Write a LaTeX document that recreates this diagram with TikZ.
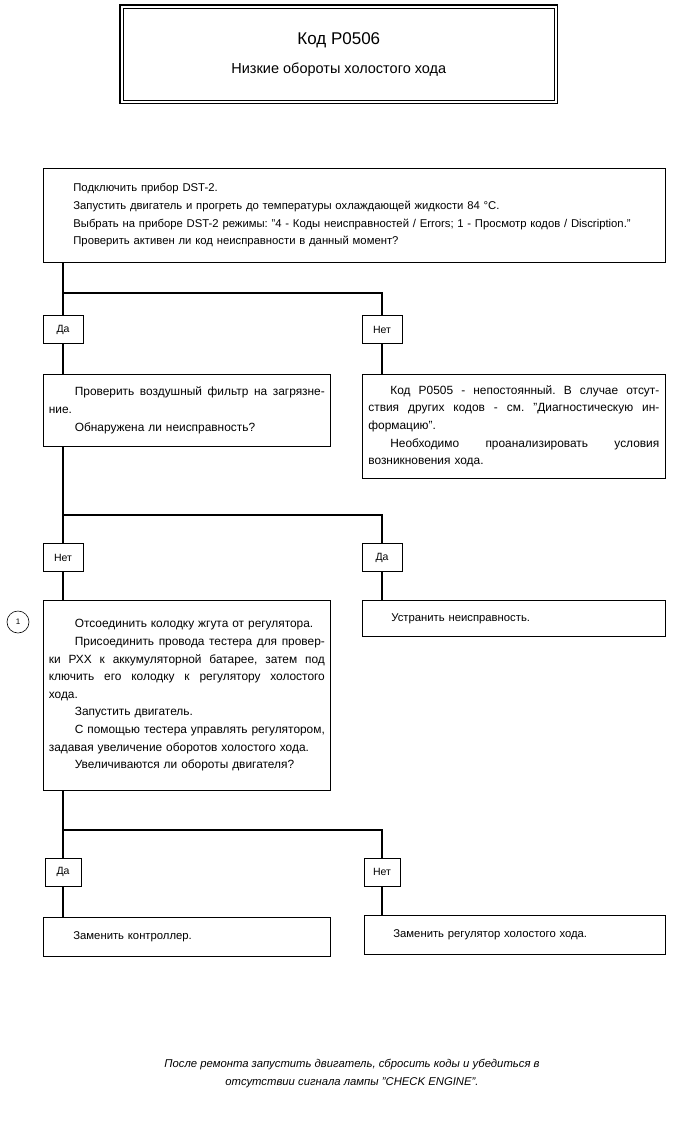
\documentclass[tikz,border=0pt]{standalone}
\usepackage{fontspec}
\setmainfont{Liberation Sans}
\frenchspacing
\newcommand{\jl}[2]{\leavevmode\hbox to #1{\spaceskip=0pt\xspaceskip=0pt\relax #2}}
\newcommand{\ind}{\hspace*{26pt}}
\newcommand{\indr}{\hspace*{22pt}}
\begin{document}
\begin{tikzpicture}[x=1pt,y=-1pt,
  box/.style={draw, line width=0.7pt, anchor=north west, inner sep=0pt, align=left, font=\fontsize{11.3}{17.6}\selectfont},
  bigtext/.style={font=\fontsize{11.9}{17.6}\selectfont},
  lab/.style={draw, line width=0.7pt, minimum width=40pt, minimum height=28pt, inner sep=0pt, font=\fontsize{10.5}{11}\selectfont},
  conn/.style={line width=2.5pt}]
\useasboundingbox (0,0) rectangle (699,1136);
% title
\node[draw, line width=0.6pt, anchor=north west, minimum width=431pt, minimum height=92pt, inner sep=0pt, align=center] (title) at (123,8)
  {{\fontsize{17}{17}\selectfont Код P0506}\\[14pt]{\fontsize{14.5}{15}\selectfont Низкие обороты холостого хода}};
\draw[line width=1.5pt] ([xshift=-3pt,yshift=3pt]title.north west) rectangle ([xshift=3pt,yshift=-3pt]title.south east);
% box 1
\node[box, minimum width=622pt, minimum height=94pt, text width=562pt] (b1) at (43,168)
  {Подключить прибор DST-2.\\
   Запустить двигатель и прогреть до температуры охлаждающей жидкости 84 °С.\\
   Выбрать на приборе DST-2 режимы: "4 - Коды неисправностей / Errors; 1 - Просмотр кодов / Discription."\\
   Проверить активен ли код неисправности в данный момент?};
% level 1 labels
\node[lab] (l1) at (63,329.5) {Да};
\node[lab] (n1) at (382,329.5) {Нет};
\coordinate (j1) at (63,293);
% level 1 boxes
\node[box, bigtext, minimum width=287pt, minimum height=72pt, text width=276pt] (b2) at (43,374)
  {\jl{276pt}{\ind Проверить воздушный фильтр на загрязне-}\\
   ние.\\
   \ind Обнаружена ли неисправность?};
\node[box, bigtext, minimum width=303pt, minimum height=104pt, text width=291pt] (r1) at (362,374)
  {\jl{291pt}{\indr Код P0505 - непостоянный. В случае отсут-}\\
   \jl{291pt}{ствия других кодов - см. "Диагностическую ин-}\\
   формацию".\\
   \jl{291pt}{\indr Необходимо проанализировать условия}\\
   возникновения хода.};
% level 2
\node[lab] (l2) at (63,557.5) {Нет};
\node[lab] (d2) at (382,557.5) {Да};
\coordinate (j2) at (63,515);
\node[box, bigtext, minimum width=287pt, minimum height=190pt, text width=276pt] (b3) at (43,600)
  {\ind Отсоединить колодку жгута от регулятора.\\
   \jl{276pt}{\ind Присоединить провода тестера для провер-}\\
   \jl{276pt}{ки РХХ к аккумуляторной батарее, затем под}\\
   \jl{276pt}{ключить его колодку к регулятору холостого}\\
   хода.\\
   \ind Запустить двигатель.\\
   \jl{276pt}{\ind С помощью тестера управлять регулятором,}\\
   задавая увеличение оборотов холостого хода.\\
   \ind Увеличиваются ли обороты двигателя?};
\node[box, minimum width=303pt, minimum height=36pt, text width=245pt] (r2) at (362,600)
  {Устранить неисправность.};
\node[draw, circle, line width=0.6pt, minimum size=22pt, inner sep=0pt, font=\fontsize{8}{8}\selectfont] (c1) at (18,622) {1};
% level 3
\node[lab, minimum width=36pt] (l3) at (63,872) {Да};
\node[lab, minimum width=36pt] (n3) at (382,872) {Нет};
\coordinate (j3) at (63,830);
\node[box, minimum width=287pt, minimum height=39pt, text width=227pt] (b4) at (43,917)
  {Заменить контроллер.};
\node[box, minimum width=301pt, minimum height=39pt, text width=243pt] (r3) at (364,915)
  {Заменить регулятор холостого хода.};
% footer
\node[font=\itshape\fontsize{11.3}{18}\selectfont, align=center] (foot) at (352,1074)
  {После ремонта запустить двигатель, сбросить коды и убедиться в\\ отсутствии сигнала лампы "CHECK ENGINE".};
% connectors
\draw[conn] (b1.south -| l1) -- (l1.north);
\draw[conn] (j1) -| (n1.north);
\draw[conn] (l1.south) -- (l1.south |- b2.north);
\draw[conn] (n1.south) -- (n1.south |- r1.north);
\draw[conn] (b2.south -| l2) -- (l2.north);
\draw[conn] (j2) -| (d2.north);
\draw[conn] (l2.south) -- (l2.south |- b3.north);
\draw[conn] (d2.south) -- (d2.south |- r2.north);
\draw[conn] (b3.south -| l3) -- (l3.north);
\draw[conn] (j3) -| (n3.north);
\draw[conn] (l3.south) -- (l3.south |- b4.north);
\draw[conn] (n3.south) -- (n3.south |- r3.north);
\end{tikzpicture}
\end{document}
